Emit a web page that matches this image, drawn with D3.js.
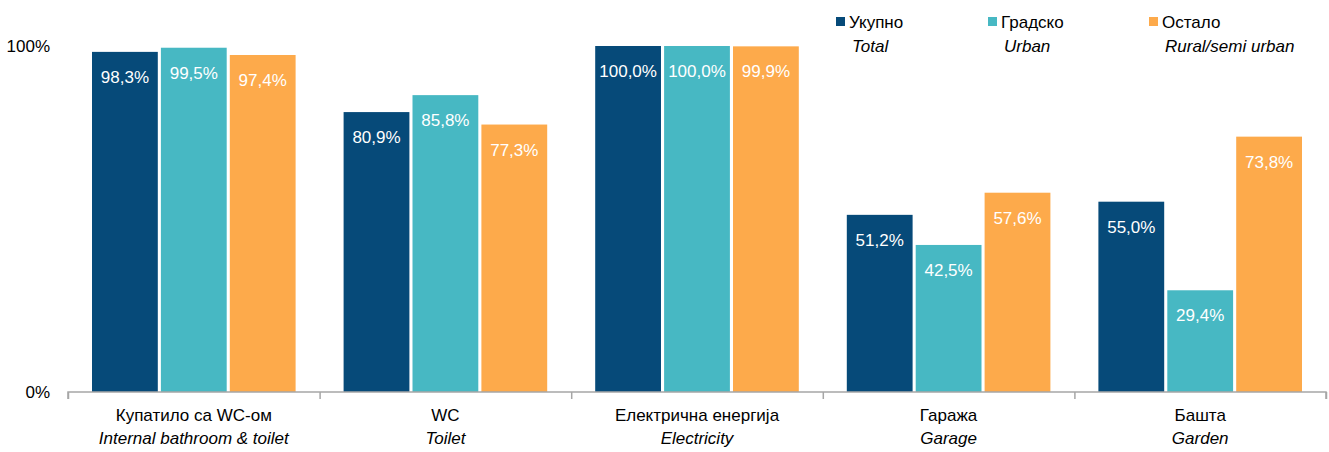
<!DOCTYPE html>
<html>
<head>
<meta charset="utf-8">
<script src="https://cdn.jsdelivr.net/npm/d3@7"></script>
<style>
  body { margin: 0; background: #fff; }
  svg text { font-family: "Liberation Sans Narrow", "Arial Narrow", "Liberation Sans", sans-serif; }
</style>
</head>
<body>
<svg id="chart" width="1329" height="452"></svg>
<script>
// categories (Serbian / English)
var catsSr = ["Купатило са WC-ом", "WC", "Електрична енергија", "Гаража", "Башта"];
var catsEn = ["Internal bathroom & toilet", "Toilet", "Electricity", "Garage", "Garden"];

var seriesSr = ["Укупно", "Градско", "Остало"];
var seriesEn = ["Total", "Urban", "Rural/semi urban"];
var colors = ["#064a79", "#47b8c3", "#fdaa4b"];

var total = [98.3, 80.9, 100.0, 51.2, 55.0];
var urban = [99.5, 85.8, 100.0, 42.5, 29.4];
var rural = [97.4, 77.3, 99.9, 57.6, 73.8];
var yTicks = [0, 100];

var values = [total, urban, rural];

var drawChart = function () {
  var svg = d3.select('#chart');
  var mLeft = 68, mRight = 1326, mTop = 46, mBottom = 392;

  var x0 = d3.scaleBand().domain(d3.range(catsSr.length)).range([mLeft, mRight]).padding(0);
  var x1 = d3.scaleBand().domain(d3.range(3)).range([24, x0.bandwidth() - 24]).paddingInner(0.045).paddingOuter(0);
  var y = d3.scaleLinear().domain([0, 100]).range([mBottom, mTop]);

  // bars
  var groups = svg.selectAll('g.cat').data(catsSr).enter().append('g')
    .attr('class', 'cat')
    .attr('transform', function (d, i) { return 'translate(' + x0(i) + ',0)'; });

  groups.each(function (d, i) {
    var g = d3.select(this);
    var rows = values.map(function (s, k) { return {k: k, v: s[i]}; });
    g.selectAll('rect').data(rows).enter().append('rect')
      .attr('x', function (r) { return x1(r.k); })
      .attr('y', function (r) { return y(r.v); })
      .attr('width', x1.bandwidth())
      .attr('height', function (r) { return mBottom - y(r.v); })
      .attr('fill', function (r) { return colors[r.k]; });
    g.selectAll('text.val').data(rows).enter().append('text')
      .attr('class', 'val')
      .attr('x', function (r) { return x1(r.k) + x1.bandwidth() / 2; })
      .attr('y', function (r) { return y(r.v) + 31; })
      .attr('text-anchor', 'middle')
      .attr('fill', '#fff')
      .attr('font-size', 17)
      .text(function (r) { return r.v.toFixed(1).replace('.', ',') + '%'; });
  });

  // x axis line and ticks
  var axis = d3.axisBottom(d3.scaleLinear().domain([0, catsSr.length]).range([mLeft, mRight]))
    .ticks(catsSr.length).tickSize(7).tickFormat('');
  var ax = svg.append('g').attr('transform', 'translate(0,' + mBottom + ')').call(axis);
  ax.selectAll('path, line').attr('stroke', '#a6a6a6').attr('stroke-width', 1.5);
  ax.select('path').attr('d', 'M' + mLeft + ',7V0H' + mRight + 'V7');

  // category labels
  svg.selectAll('text.cat1').data(catsSr).enter().append('text')
    .attr('x', function (d, i) { return x0(i) + x0.bandwidth() / 2; })
    .attr('y', 421)
    .attr('text-anchor', 'middle').attr('font-size', 17).attr('fill', '#000')
    .text(function (d) { return d; });
  svg.selectAll('text.cat2').data(catsEn).enter().append('text')
    .attr('x', function (d, i) { return x0(i) + x0.bandwidth() / 2; })
    .attr('y', 444)
    .attr('text-anchor', 'middle').attr('font-size', 17).attr('font-style', 'italic').attr('fill', '#000')
    .text(function (d) { return d; });

  // y tick labels
  svg.selectAll('text.ytick').data(yTicks).enter().append('text')
    .attr('x', 50).attr('y', function (d) { return y(d) + 6; })
    .attr('text-anchor', 'end').attr('font-size', 17).attr('fill', '#000')
    .text(function (d) { return d + '%'; });

  // legend
  var legX = [836, 988, 1149];
  var leg = svg.selectAll('g.leg').data(seriesSr).enter().append('g')
    .attr('transform', function (d, i) { return 'translate(' + legX[i] + ',0)'; });
  leg.append('rect').attr('x', 0).attr('y', 17).attr('width', 9).attr('height', 9)
    .attr('fill', function (d, i) { return colors[i]; });
  leg.append('text').attr('x', 13).attr('y', 28).attr('font-size', 17).attr('fill', '#000')
    .text(function (d) { return d; });
  leg.append('text').attr('x', 16).attr('y', 52).attr('font-size', 17).attr('font-style', 'italic').attr('fill', '#000')
    .text(function (d, i) { return seriesEn[i]; });
};

drawChart();
</script>
</body>
</html>
